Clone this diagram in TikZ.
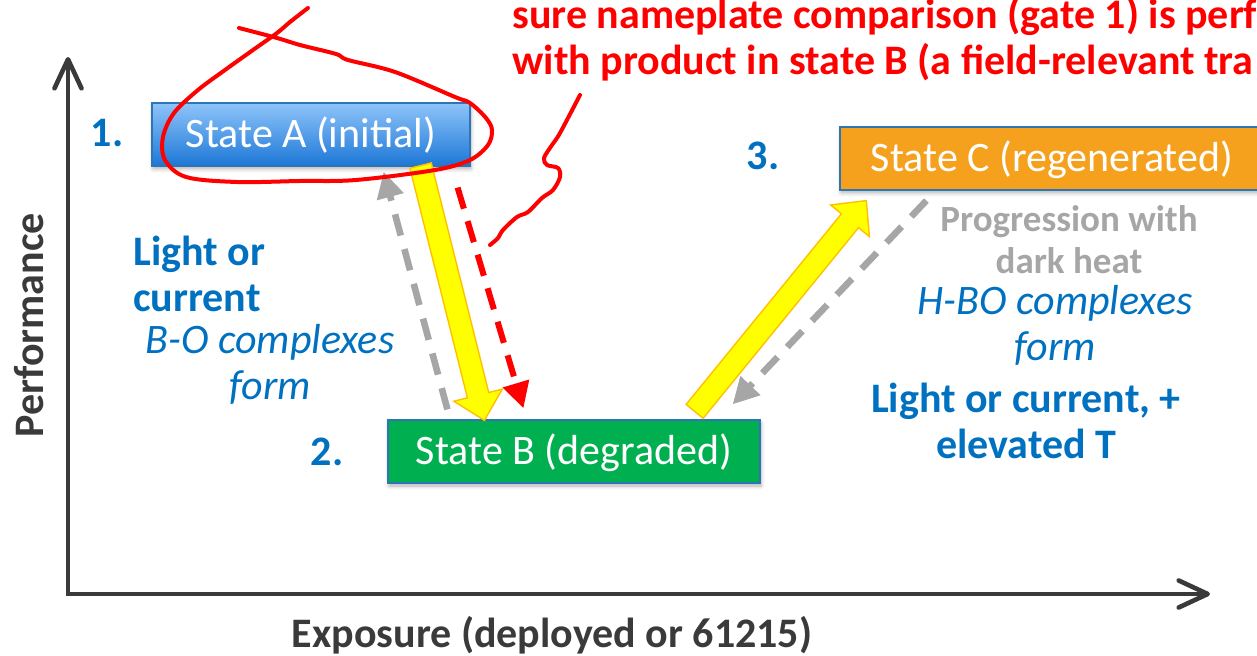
\documentclass[tikz,border=0pt]{standalone}
\usepackage{fontspec}
\setmainfont{Carlito}
\usetikzlibrary{calc,arrows.meta,shadows.blur}

\definecolor{txtblue}{HTML}{0070C0}
\definecolor{txtgray}{HTML}{A6A6A6}
\definecolor{axisgray}{HTML}{3A3A3A}
\definecolor{boxedge}{HTML}{2E75B6}
\definecolor{stAtop}{HTML}{8EC4FA}
\definecolor{stAbot}{HTML}{1C77D6}
\definecolor{stBfill}{HTML}{00B050}
\definecolor{stCfill}{HTML}{F5A11E}
\definecolor{arrowyellow}{HTML}{FFFF00}
\definecolor{arrowedge}{HTML}{FFC000}
\definecolor{dashgray}{HTML}{A6A6A6}

% broad yellow arrow from #1 (tail) to #2 (tip)
\newcommand\fatarrow[2]{%
  \coordinate (fa-h) at ($(#2)!13pt!(#1)$);
  \draw[fatarrow] ($(#1)!5.5pt!90:(#2)$) -- ($(fa-h)!5.5pt!-90:(#1)$)
    -- ($(fa-h)!12.5pt!-90:(#1)$) -- (#2) -- ($(fa-h)!12.5pt!90:(#1)$)
    -- ($(fa-h)!5.5pt!90:(#1)$) -- ($(#1)!5.5pt!-90:(#2)$) -- cycle;}

\tikzset{
  statebox/.style={draw=boxedge, line width=0.6pt, minimum height=31.5pt, inner sep=0pt,
    text height=15pt, text depth=2pt, text=white, font=\fontsize{21}{23}\selectfont,
    blur shadow={shadow xshift=0.5pt, shadow yshift=-1.5pt, shadow blur steps=5, shadow opacity=30}},
  stepnum/.style={anchor=base, text=txtblue, font=\bfseries\fontsize{21}{23}\selectfont},
  cause/.style={text=txtblue, font=\bfseries\fontsize{21}{23}\selectfont, align=center, inner sep=0pt},
  mechanism/.style={text=txtblue, font=\itshape\fontsize{21}{23}\selectfont, align=center, inner sep=0pt},
  progtext/.style={text=txtgray, font=\bfseries\fontsize{18.5}{21}\selectfont, align=center, inner sep=0pt},
  notetext/.style={text=red, font=\bfseries\fontsize{21}{23}\selectfont, align=left, inner sep=0pt, anchor=west},
  axistext/.style={text=axisgray, font=\bfseries\fontsize{21}{23}\selectfont},
  axisline/.style={draw=axisgray, line width=2.3pt,
    {Straight Barb[round,length=14.5pt,width=13.5pt]}-{Straight Barb[round,length=14.5pt,width=13.5pt]}},
  fatarrow/.style={fill=arrowyellow, draw=arrowedge, line width=0.7pt},
  backpath/.style={draw=dashgray, line width=3.3pt, dash pattern=on 11pt off 7pt,
    -{Triangle[length=13pt,width=13pt]}},
  redtrace/.style={draw=red, line width=3pt, dash pattern=on 11pt off 6.5pt,
    -{Triangle[length=13pt,width=13pt]}},
  scribble/.style={draw=red, line width=2pt, line cap=round, line join=round}
}

\begin{document}
\begin{tikzpicture}[x=0.5pt,y=-0.5pt]
\useasboundingbox (0,0) rectangle (1257,656);

% axes
\coordinate (O) at (68,594);
\coordinate (ytop) at (68,57);
\coordinate (xend) at (1210,594);
\draw[axisline] (ytop) -- (O) -- (xend);
\node[axistext, rotate=90, anchor=base] (ylabel) at (43,325) {Performance};
\node[axistext, anchor=base] (xlabel) at (552,647) {Exposure (deployed or 61215)};

% states
\node[statebox, minimum width=159pt, top color=stAtop, bottom color=stAbot] (stA) at (311,134.5) {State A (initial)};
\node[statebox, minimum width=186pt, fill=stBfill] (stB) at (574,451.5) {State B (degraded)};
\node[statebox, minimum width=212pt, fill=stCfill] (stC) at (1052,158.5) {State C (regenerated)};
\node[stepnum] (n1) at (107,147) {1.};
\node[stepnum] (n2) at (327,466) {2.};
\node[stepnum] (n3) at (763,170) {3.};

% labels
\node[cause, align=left, anchor=west] (causeAB) at (133,274) {Light or\\current};
\node[mechanism] (mechAB) at (270,364) {B-O complexes\\form};
\node[progtext] (progC) at (1069,240) {Progression with\\dark heat};
\node[mechanism] (mechBC) at (1055,325) {H-BO complexes\\form};
\node[cause] (causeBC) at (1026,421) {Light or current, +\\elevated T};

% arrow ends
\coordinate (ab-s) at ($(stA.south east)+(-50,-1)$);
\coordinate (ab-e) at ($(stB.north west)+(97,1)$);
\coordinate (bc-s) at ($(stB.north east)+(-66,-8)$);
\coordinate (bc-e) at ($(stC.south west)+(27,10)$);
\coordinate (ba-s) at ($(stB.north west)+(60,-10)$);
\coordinate (ba-e) at ($(stA.south east)+(-87,5)$);
\coordinate (cb-s) at ($(stC.south west)+(87,10)$);
\coordinate (cb-e) at ($(stB.north east)+(-28,-15)$);
\coordinate (rv-s) at ($(stA.south east)+(-13,21)$);
\coordinate (rv-e) at ($(stB.north west)+(136,-11)$);

\fatarrow{ab-s}{ab-e}
\fatarrow{bc-s}{bc-e}
\draw[backpath] (ba-s) -- (ba-e);
\draw[backpath] (cb-s) -- (cb-e);
\draw[redtrace] (rv-s) -- (rv-e);

% red mark-up
\draw[scribble] plot[smooth, tension=0.55] coordinates {(308,8) (290,22) (277,33) (253,50) (225,70)
  (198,90) (174,113) (163,137) (165,160) (186,177) (237,182) (300,181) (356,180) (435,170)
  (470,160) (488,145) (492,130) (486,118) (470,103) (455,97) (395,72) (348,60) (336,54)
  (300,45) (277,38) (239,28)};
\draw[scribble] plot[smooth, tension=0.55] coordinates {(580,95) (560,133) (552,145) (544,158)
  (547,165) (558,168) (560,177) (553,190) (542,198) (528,212) (517,217) (503,230) (498,238) (490,245)};
\node[notetext] (note) at (512,39) {sure nameplate comparison (gate 1) is perf\\with product in state B (a field-relevant tra};
\end{tikzpicture}
\end{document}
